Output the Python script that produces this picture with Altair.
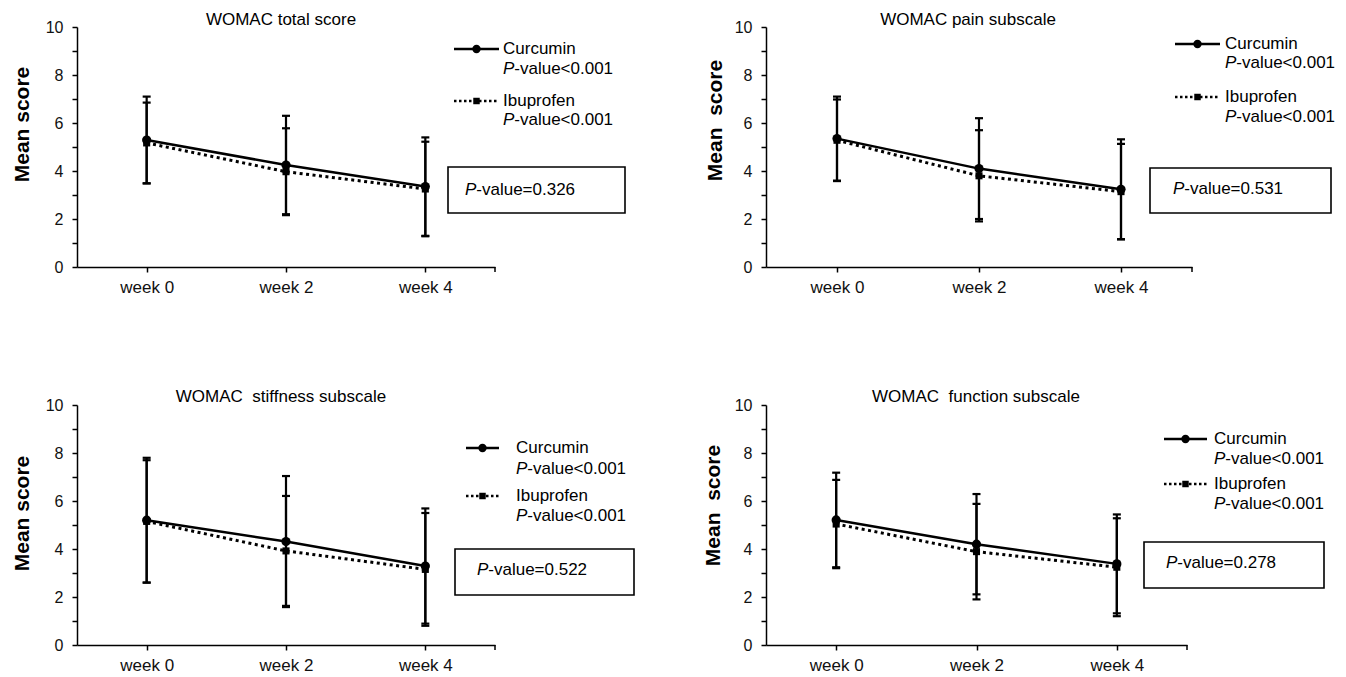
import altair as alt
import pandas as pd

# ---------------- data ----------------
WEEKS = ["week 0", "week 2", "week 4"]
GROUPS = ["Curcumin", "Ibuprofen"]
TITLES = ["WOMAC total score", "WOMAC pain subscale",
          "WOMAC\u00a0 stiffness subscale", "WOMAC\u00a0 function subscale"]
Y_TITLES = ["Mean score", "Mean\u00a0 score", "Mean score", "Mean\u00a0 score"]
WITHIN_P = ["<0.001", "<0.001"]           # Curcumin, Ibuprofen (same in every panel)
BETWEEN_P = ["=0.326", "=0.531", "=0.522", "=0.278"]

TOTAL_CUR_MEAN = [5.29, 4.25, 3.35]
TOTAL_CUR_SD = [1.81, 2.05, 2.05]
TOTAL_IBU_MEAN = [5.17, 3.97, 3.25]
TOTAL_IBU_SD = [1.68, 1.81, 1.97]

PAIN_CUR_MEAN = [5.35, 4.10, 3.24]
PAIN_CUR_SD = [1.75, 2.10, 2.08]
PAIN_IBU_MEAN = [5.28, 3.80, 3.14]
PAIN_IBU_SD = [1.70, 1.90, 1.99]

STIFF_CUR_MEAN = [5.20, 4.31, 3.29]
STIFF_CUR_SD = [2.60, 2.73, 2.40]
STIFF_IBU_MEAN = [5.15, 3.92, 3.15]
STIFF_IBU_SD = [2.55, 2.29, 2.35]

FUNC_CUR_MEAN = [5.21, 4.20, 3.38]
FUNC_CUR_SD = [1.97, 2.09, 2.06]
FUNC_IBU_MEAN = [5.04, 3.89, 3.24]
FUNC_IBU_SD = [1.84, 1.99, 2.04]

SERIES = [
    (TOTAL_CUR_MEAN, TOTAL_CUR_SD, TOTAL_IBU_MEAN, TOTAL_IBU_SD),
    (PAIN_CUR_MEAN, PAIN_CUR_SD, PAIN_IBU_MEAN, PAIN_IBU_SD),
    (STIFF_CUR_MEAN, STIFF_CUR_SD, STIFF_IBU_MEAN, STIFF_IBU_SD),
    (FUNC_CUR_MEAN, FUNC_CUR_SD, FUNC_IBU_MEAN, FUNC_IBU_SD),
]

# ---------------- layout (pixels relative to each plot area) ----------------
FONT = "Liberation Sans"
LAYOUT = [
    dict(w=418, tx=204, ty=-2, ytx=-49, yty=97,
         lx1=377, lx2=422, tx0=426, rows=[22, 42, 74, 93],
         box=(371, 548, 140, 186), bt=(388, 163)),
    dict(w=426, tx=202, ty=-2, ytx=-45, yty=93,
         lx1=409, lx2=454, tx0=459, rows=[17, 36, 70, 90],
         box=(384, 565, 141, 186), bt=(407, 162)),
    dict(w=418, tx=204, ty=-3, ytx=-49, yty=108,
         lx1=389, lx2=422, tx0=439, rows=[43, 64, 91, 111],
         box=(378, 557, 144, 190), bt=(400, 165)),
    dict(w=421, tx=210, ty=-3, ytx=-47, yty=100,
         lx1=398, lx2=441, tx0=448, rows=[34, 54, 79, 99],
         box=(378, 558, 137, 183), bt=(400, 158)),
]
H = 240
P_W = 11.3  # width of an italic "P" at 17px

ONE = pd.DataFrame({"k": [0]})


def txt(s, x, y, italic=False, align="left", size=17):
    kw = dict(align=align, baseline="middle", font=FONT, fontSize=size, color="black")
    if italic:
        kw["fontStyle"] = "italic"
    return alt.Chart(ONE).mark_text(**kw).encode(
        x=alt.value(x), y=alt.value(y), text=alt.value(s))


def pval(rest, x, y):
    return [txt("P", x, y, italic=True), txt("-value" + rest, x + P_W, y)]


def panel(i):
    cm, cs, im, isd = SERIES[i]
    L = LAYOUT[i]
    rows = []
    for g, m, s in ((GROUPS[0], cm, cs), (GROUPS[1], im, isd)):
        for w, mv, sv in zip(WEEKS, m, s):
            rows.append({"week": w, "group": g, "mean": mv,
                         "lo": round(mv - sv, 3), "hi": round(mv + sv, 3)})
    df = pd.DataFrame(rows)

    xaxis = alt.Axis(title=None, labelAngle=0, labelFont=FONT, labelFontSize=17,
                     labelColor="#111", tickSize=5, labelPadding=7,
                     domainColor="black", domainWidth=1.5, tickColor="black",
                     tickWidth=1.5, grid=False)
    yaxis = alt.Axis(title=Y_TITLES[i], values=list(range(0, 11)),
                     labelExpr="datum.value % 2 == 0 ? datum.label : ''",
                     labelFont=FONT, labelFontSize=16, labelColor="#111",
                     tickSize=5, labelPadding=9, domainColor="black",
                     domainWidth=1.5, tickColor="black", tickWidth=1.5, grid=False,
                     titleFont=FONT, titleFontSize=21, titleFontWeight="bold",
                     titleColor="black", titleAngle=270, titleX=L["ytx"],
                     titleY=L["yty"], titleBaseline="alphabetic", titleAlign="center")
    xscale = alt.Scale(type="point", padding=0.5)
    yscale = alt.Scale(domain=[0, 10], nice=False)

    def X():
        return alt.X("week:O", sort=WEEKS, scale=xscale, axis=xaxis)

    def Y(f):
        return alt.Y(f + ":Q", scale=yscale, axis=yaxis)

    base = alt.Chart(df)
    err = base.mark_rule(color="black", strokeWidth=2.2).encode(x=X(), y=Y("lo"), y2="hi:Q")
    cap_lo = base.mark_tick(color="black", size=8, thickness=2.2, opacity=1).encode(x=X(), y=Y("lo"))
    cap_hi = base.mark_tick(color="black", size=8, thickness=2.2, opacity=1).encode(x=X(), y=Y("hi"))
    cur = base.transform_filter(alt.datum.group == GROUPS[0])
    ibu = base.transform_filter(alt.datum.group == GROUPS[1])
    line_c = cur.mark_line(color="black", strokeWidth=2.5).encode(x=X(), y=Y("mean"))
    line_i = ibu.mark_line(color="black", strokeWidth=3, strokeDash=[3, 3.5]).encode(x=X(), y=Y("mean"))
    pt_c = cur.mark_point(shape="circle", filled=True, size=85, color="black", opacity=1).encode(x=X(), y=Y("mean"))
    pt_i = ibu.mark_point(shape="square", filled=True, size=50, color="black", opacity=1).encode(x=X(), y=Y("mean"))

    # closing tick at the right end of the x axis
    end_tick = alt.Chart(ONE).mark_rule(color="black", strokeWidth=1.5).encode(
        x=alt.value(L["w"]), y=alt.value(H), y2=alt.value(H + 5))

    r = L["rows"]
    mx = (L["lx1"] + L["lx2"]) / 2
    leg = [
        alt.Chart(ONE).mark_rule(color="black", strokeWidth=2.5).encode(
            x=alt.value(L["lx1"]), x2=alt.value(L["lx2"]), y=alt.value(r[0])),
        alt.Chart(ONE).mark_point(shape="circle", filled=True, size=70, color="black", opacity=1).encode(
            x=alt.value(mx), y=alt.value(r[0])),
        txt(GROUPS[0], L["tx0"], r[0]),
        *pval(WITHIN_P[0], L["tx0"], r[1]),
        alt.Chart(ONE).mark_rule(color="black", strokeWidth=2.5, strokeDash=[2.5, 2.5]).encode(
            x=alt.value(L["lx1"]), x2=alt.value(L["lx2"]), y=alt.value(r[2])),
        alt.Chart(ONE).mark_point(shape="square", filled=True, size=42, color="black", opacity=1).encode(
            x=alt.value(mx), y=alt.value(r[2])),
        txt(GROUPS[1], L["tx0"], r[2]),
        *pval(WITHIN_P[1], L["tx0"], r[3]),
    ]
    bx = L["box"]
    box = alt.Chart(ONE).mark_rect(fillOpacity=0, stroke="black", strokeWidth=1.6).encode(
        x=alt.value(bx[0]), x2=alt.value(bx[1]), y=alt.value(bx[2]), y2=alt.value(bx[3]))
    btxt = pval(BETWEEN_P[i], L["bt"][0], L["bt"][1])
    title = txt(TITLES[i], L["tx"], L["ty"], align="center")
    title = title.mark_text(align="center", baseline="alphabetic", font=FONT,
                            fontSize=17, color="black")

    return alt.layer(err, cap_lo, cap_hi, line_i, line_c, pt_i, pt_c, end_tick,
                     *leg, box, *btxt, title).properties(width=L["w"], height=H)


chart = alt.concat(
    panel(0), panel(1), panel(2), panel(3),
    columns=2, spacing={"row": 138, "column": 271}, bounds="flush",
).properties(
    padding={"left": 3, "top": 3, "right": 0, "bottom": 0},
    background="white",
).configure_view(stroke=None)

chart.save("out.html", embed_options={"renderer": "svg", "actions": False})
